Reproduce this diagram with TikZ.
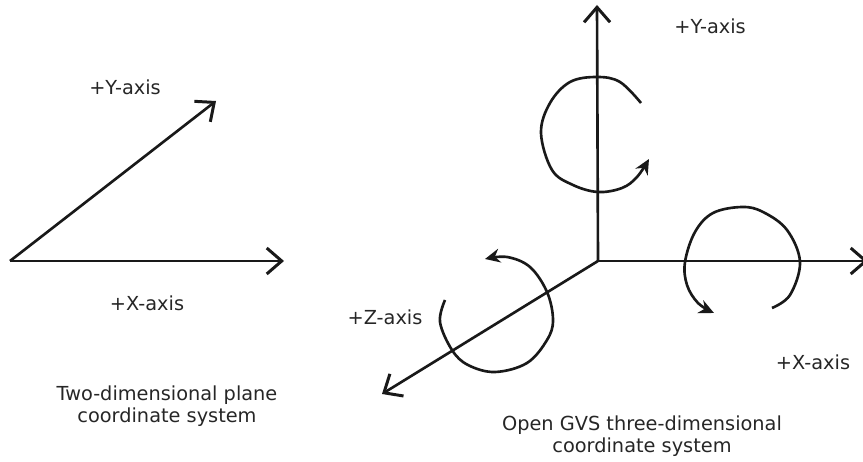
\documentclass[tikz,border=0pt]{standalone}
\usepackage{fontspec}
\setmainfont{DejaVu Sans}
\usetikzlibrary{arrows.meta}
\tikzset{
  >={Stealth[length=2mm]},
  caxis/.style={black!90, line width=0.75pt, -{Straight Barb[length=1.5mm,width=2.6mm,line width=0.85pt]}},
  crot/.style={black!90, line width=0.75pt, -{Stealth[length=1.5mm,width=1.4mm]}},
  clbl/.style={black!85, font=\fontsize{5.5}{6.4}\selectfont, align=center, inner sep=0pt},
}
\begin{document}
\begin{tikzpicture}[x=1cm,y=1cm]
  \useasboundingbox (0,0) rectangle (8.63,4.62);

  % plano 2D
  \coordinate (planeO) at (0.10,2.01);
  \coordinate (planeX) at (2.84,2.01);
  \coordinate (planeY) at (2.16,3.61);
  \draw[caxis] (planeO) -- (planeX);
  \draw[caxis] (planeO) -- (planeY);
  \node[clbl] (planeYlbl) at (1.25,3.75) {+Y-axis};
  \node[clbl] (planeXlbl) at (1.47,1.59) {+X-axis};
  \node[clbl] (planeCap) at (1.67,0.56) {Two-dimensional plane\\coordinate system};

  % eixos 3D
  \coordinate (gvsO) at (5.98,2.01);
  \coordinate (gvsY) at (5.97,4.57);
  \coordinate (gvsX) at (8.68,2.01);
  \coordinate (gvsZ) at (3.82,0.68);
  \draw[caxis] (gvsO) -- (gvsY);
  \draw[caxis] (gvsO) -- (gvsX);
  \draw[caxis] (gvsO) -- (gvsZ);

  % setas de rotacao
  \draw[crot] plot[smooth, tension=0.6] coordinates {(6.41,3.59) (6.20,3.80) (5.97,3.85) (5.70,3.80) (5.50,3.59) (5.41,3.29) (5.52,2.92) (5.73,2.77) (5.98,2.70) (6.22,2.74) (6.37,2.85) (6.49,3.03)};
  \draw[crot] plot[smooth, tension=0.6] coordinates {(7.72,1.54) (7.90,1.67) (8.00,2.00) (7.87,2.32) (7.63,2.50) (7.42,2.55) (7.13,2.49) (6.95,2.30) (6.85,2.00) (6.87,1.77) (6.98,1.59) (7.14,1.49)};
  \draw[crot] plot[smooth, tension=0.6] coordinates {(4.45,1.62) (4.40,1.40) (4.52,1.12) (4.68,0.97) (4.95,0.90) (5.27,0.99) (5.47,1.22) (5.53,1.42) (5.47,1.70) (5.30,1.95) (5.07,2.05) (4.85,2.03)};

  % legendas
  \node[clbl] (gvsYlbl) at (7.10,4.36) {+Y-axis};
  \node[clbl] (gvsXlbl) at (8.13,1.00) {+X-axis};
  \node[clbl] (gvsZlbl) at (3.85,1.45) {+Z-axis};
  \node[clbl] (gvsCap) at (6.42,0.26) {Open GVS three-dimensional\\coordinate system};
\end{tikzpicture}
\end{document}
